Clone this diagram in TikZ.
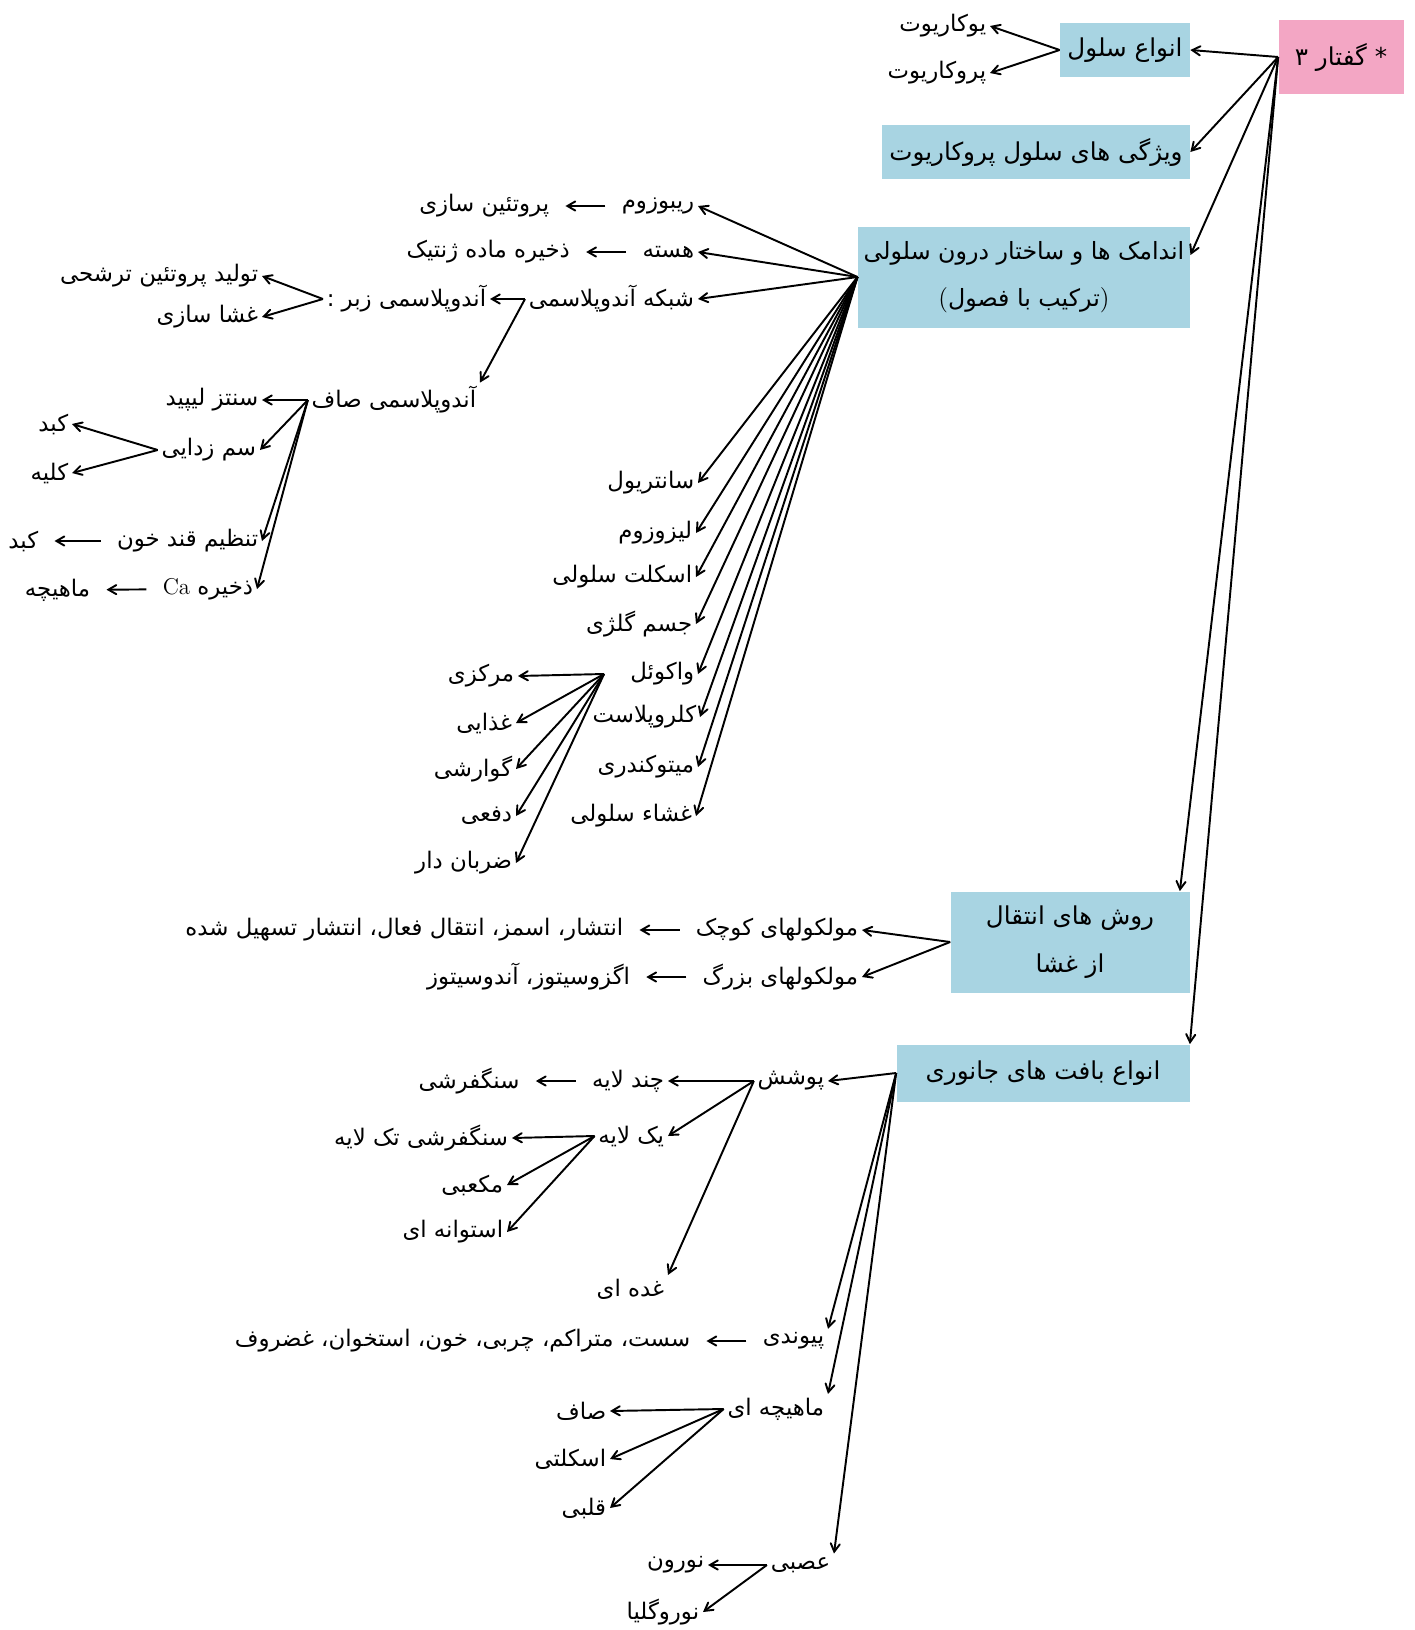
\documentclass[tikz,border=0pt]{standalone}
\usepackage{fontspec}
\usepackage{tikz}
\usetikzlibrary{arrows, positioning}
\TeXXeTstate=1
\newfontfamily\farsi[Script=Arabic]{DejaVu Sans}
\newcommand{\fatext}[1]{\beginR #1\endR}
\newcommand{\mapfont}{\farsi\fontsize{14}{20}\selectfont}
\newcommand{\leaffont}{\farsi\fontsize{13}{18}\selectfont}
\definecolor{boxblue}{RGB}{168,212,226}
\definecolor{rootpink}{RGB}{243,166,196}
\tikzset{
    rootbox/.style={rectangle, fill=rootpink, minimum width=25mm, minimum height=14.6mm, align=center, font=\mapfont},
    topic/.style={rectangle, fill=boxblue, minimum height=10.8mm, align=center, font=\mapfont},
    leaf/.style={anchor=east, inner sep=2pt, font=\leaffont},
    arrow/.style={line width=1.1pt,->,>=angle 60},
    shortarrow/.style={arrow, shorten <=2.5mm, shorten >=2.5mm}
}

\begin{document}
\begin{tikzpicture}[x=0.2mm, y=-0.2mm, node distance=13mm]
    \useasboundingbox (0,0) rectangle (1415,1630);
    \node (root) [rootbox] at (1341,57) {\fatext{* گفتار ۳}};
    \node (types) [topic, minimum width=26mm, minimum height=10.6mm] at (1125,50) {\fatext{انواع سلول}};
    \node (feat) [topic, minimum width=61.6mm] at (1036,152) {\fatext{ویژگی های سلول پروکاریوت}};
    \node (organ) [topic, minimum width=66.4mm, minimum height=20.2mm, font=\farsi\fontsize{13.5}{27}\selectfont] at (1024,277) {\fatext{اندامک ها و ساختار درون سلولی}\\$($\fatext{ترکیب با فصول}$)$};
    \node (trans) [topic, minimum width=47.8mm, minimum height=20.2mm, font=\farsi\fontsize{14}{27}\selectfont] at (1070,942) {\fatext{روش های انتقال}\\\fatext{از غشا}};
    \node (tissue) [topic, minimum width=58.6mm, minimum height=11.4mm] at (1043,1073) {\fatext{انواع بافت های جانوری}};

    \node (euk) [leaf] at (990,26) {\fatext{یوکاریوت}};
    \node (prok) [leaf] at (990,73) {\fatext{پروکاریوت}};

    \node (ribo) [leaf] at (698,206) {\fatext{ریبوزوم}};
    \node (nucleus) [leaf] at (698,252) {\fatext{هسته}};
    \node (er) [leaf] at (698,299) {\fatext{شبکه آندوپلاسمی}};
    \node (centriole) [leaf] at (698,483) {\fatext{سانتریول}};
    \node (lysosome) [leaf] at (696,533) {\fatext{لیزوزوم}};
    \node (cytosk) [leaf] at (696,577) {\fatext{اسکلت سلولی}};
    \node (golgi) [leaf] at (696,624) {\fatext{جسم گلژی}};
    \node (vacuole) [leaf] at (698,674) {\fatext{واکوئل}};
    \node (chloro) [leaf] at (700,717) {\fatext{کلروپلاست}};
    \node (mito) [leaf] at (698,767) {\fatext{میتوکندری}};
    \node (memb) [leaf] at (696,816) {\fatext{غشاء سلولی}};

    \node (protsyn) [leaf, left=of ribo] {\fatext{پروتئین سازی}};
    \node (genstore) [leaf, left=of nucleus] {\fatext{ذخیره ماده ژنتیک}};
    \node (rough) [leaf, left=7mm of er] {\fatext{آندوپلاسمی زبر :}};
    \node (smooth) [leaf] at (480,400) {\fatext{آندوپلاسمی صاف}};
    \node (secret) [leaf] at (262,276) {\fatext{تولید پروتئین ترشحی}};
    \node (membsyn) [leaf] at (262,317) {\fatext{غشا سازی}};
    \node (lipid) [leaf] at (262,400) {\fatext{سنتز لیپید}};
    \node (detox) [leaf] at (260,450) {\fatext{سم زدایی}};
    \node (liver) [leaf] at (72,424) {\fatext{کبد}};
    \node (kidney) [leaf] at (72,473) {\fatext{کلیه}};
    \node (sugar) [leaf] at (262,541) {\fatext{تنظیم قند خون}};
    \node (liver2) [leaf] at (42,541) {\fatext{کبد}};
    \node (calcium) [leaf] at (257,589) {\fatext{ذخیره \beginL{\rmfamily Ca}\endL}};
    \node (muscle2) [leaf] at (94,590) {\fatext{ماهیچه}};

    \node (central) [leaf] at (518,676) {\fatext{مرکزی}};
    \node (food) [leaf] at (516,723) {\fatext{غذایی}};
    \node (digest) [leaf] at (516,769) {\fatext{گوارشی}};
    \node (excret) [leaf] at (516,816) {\fatext{دفعی}};
    \node (pulse) [leaf] at (516,863) {\fatext{ضربان دار}};

    \node (small) [leaf] at (862,930) {\fatext{مولکولهای کوچک}};
    \node (smallways) [leaf, left=of small] {\fatext{انتشار، اسمز، انتقال فعال، انتشار تسهیل شده}};
    \node (large) [leaf] at (862,977) {\fatext{مولکولهای بزرگ}};
    \node (largeways) [leaf, left=of large] {\fatext{اگزوسیتوز، آندوسیتوز}};

    \node (epith) [leaf] at (828,1081) {\fatext{پوشش}};
    \node (multi) [leaf] at (668,1081) {\fatext{چند لایه}};
    \node (squam) [leaf, left=of multi] {\fatext{سنگفرشی}};
    \node (single) [leaf] at (668,1136) {\fatext{یک لایه}};
    \node (simsquam) [leaf] at (512,1138) {\fatext{سنگفرشی تک لایه}};
    \node (cuboid) [leaf] at (507,1185) {\fatext{مکعبی}};
    \node (column) [leaf] at (507,1232) {\fatext{استوانه ای}};
    \node (gland) [leaf] at (668,1289) {\fatext{غده ای}};
    \node (connect) [leaf] at (828,1341) {\fatext{پیوندی}};
    \node (conntypes) [leaf, left=of connect] {\fatext{سست، متراکم، چربی، خون، استخوان، غضروف}};
    \node (muscle) [leaf] at (828,1409) {\fatext{ماهیچه ای}};
    \node (smoothm) [leaf] at (610,1411) {\fatext{صاف}};
    \node (skeletal) [leaf] at (610,1459) {\fatext{اسکلتی}};
    \node (cardiac) [leaf] at (610,1508) {\fatext{قلبی}};
    \node (nerve) [leaf] at (834,1565) {\fatext{عصبی}};
    \node (neuron) [leaf] at (708,1565) {\fatext{نورون}};
    \node (glia) [leaf] at (703,1612) {\fatext{نوروگلیا}};

    \draw [arrow] (root.west) -- (types.east);
    \draw [arrow] (root.west) -- (feat.east);
    \draw [arrow] (root.west) -- ([yshift=4.4mm]organ.east);
    \draw [arrow] (root.west) -- ([xshift=-2mm]trans.north east);
    \draw [arrow] (root.west) -- (tissue.north east);
    \draw [arrow] (types.west) -- (euk.east);
    \draw [arrow] (types.west) -- (prok.east);

    \foreach \leafname in {ribo, nucleus, er, centriole, lysosome, cytosk, golgi, vacuole, chloro, mito, memb}
        \draw [arrow] (organ.west) -- (\leafname.east);
    \draw [shortarrow] (ribo) -- (protsyn);
    \draw [shortarrow] (nucleus) -- (genstore);
    \draw [arrow] (er.west) -- (rough.east);
    \draw [arrow] (er.west) -- (smooth.north east);
    \draw [arrow] (rough.west) -- (secret.east);
    \draw [arrow] (rough.west) -- (membsyn.east);
    \foreach \leafname in {lipid, detox, sugar, calcium}
        \draw [arrow] (smooth.west) -- (\leafname.east);
    \draw [arrow] (detox.west) -- (liver.east);
    \draw [arrow] (detox.west) -- (kidney.east);
    \draw [shortarrow] (sugar) -- (liver2);
    \draw [shortarrow] (calcium) -- (muscle2);
    \foreach \leafname in {central, food, digest, excret, pulse}
        \draw [arrow] ([xshift=-4.5mm]vacuole.west) -- (\leafname.east);

    \draw [arrow] (trans.west) -- (small.east);
    \draw [arrow] (trans.west) -- (large.east);
    \draw [shortarrow] (small) -- (smallways);
    \draw [shortarrow] (large) -- (largeways);

    \draw [arrow] (tissue.west) -- (epith.east);
    \draw [arrow] (tissue.west) -- (connect.north east);
    \draw [arrow] (tissue.west) -- (muscle.north east);
    \draw [arrow] (tissue.west) -- (nerve.north east);
    \draw [arrow] (epith.west) -- (multi.east);
    \draw [arrow] (epith.west) -- (single.east);
    \draw [arrow] (epith.west) -- (gland.north east);
    \draw [shortarrow] (multi) -- (squam);
    \foreach \leafname in {simsquam, cuboid, column}
        \draw [arrow] (single.west) -- (\leafname.east);
    \draw [shortarrow] (connect) -- (conntypes);
    \foreach \leafname in {smoothm, skeletal, cardiac}
        \draw [arrow] (muscle.west) -- (\leafname.east);
    \draw [arrow] (nerve.west) -- (neuron.east);
    \draw [arrow] (nerve.west) -- (glia.east);
\end{tikzpicture}
\end{document}
